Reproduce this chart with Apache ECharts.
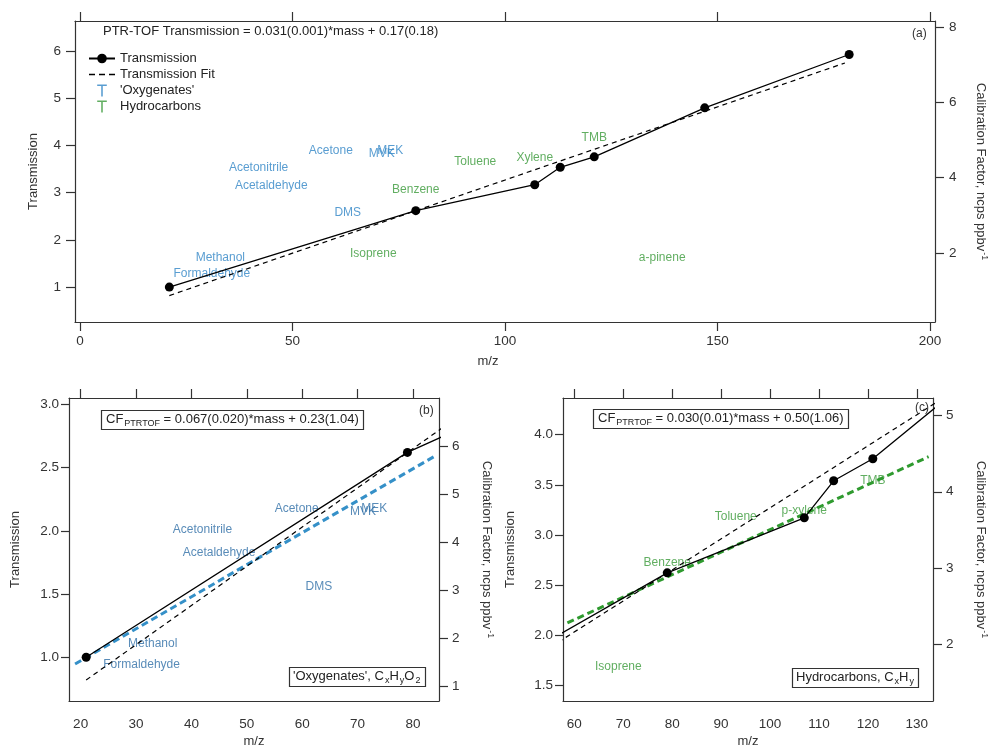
<!DOCTYPE html>
<html><head><meta charset="utf-8">
<script src="https://cdn.jsdelivr.net/npm/echarts@6/dist/echarts.min.js"></script>
<style>html,body{margin:0;padding:0;background:#fff}#c{width:988px;height:748px}</style>
</head><body><div id="c"></div>
<script>
// ---------------- data ----------------
const transMass  = [21, 79, 107, 113, 121, 147, 181];
const transValue = [1.00, 2.62, 3.17, 3.54, 3.76, 4.80, 5.93];
const fitMass  = [21, 180];
const fitValue = [0.82, 5.75];

const oxyNames = ['Formaldehyde','Methanol','Acetonitrile','Acetaldehyde','Acetone','DMS','MVK','MEK'];
const oxyMass  = [31, 33, 42, 45, 59, 63, 71, 73];
const oxyCF    = [1.44, 1.89, 4.26, 3.78, 4.71, 3.08, 4.63, 4.71];

const hcNamesA = ['Isoprene','Benzene','Toluene','Xylene','TMB','a-pinene'];
const hcMassA  = [69, 79, 93, 107, 121, 137];
const hcCFA    = [1.98, 3.69, 4.43, 4.54, 5.06, 1.88];

const hcNamesC = ['Isoprene','Benzene','Toluene','p-xylene','TMB'];
const hcMassC  = [69, 79, 93, 107, 121];
const hcCFC    = [1.71, 3.07, 3.67, 3.75, 4.15];

const oxyFitMass = [19, 84];
const oxyFitCF   = [1.46, 5.80];
const hcFitMass  = [58.6, 132.4];
const hcFitCF    = [2.28, 4.46];

const xTicksA = [0, 50, 100, 150, 200];
const yTicksA = [1, 2, 3, 4, 5, 6];
const y2TicksA = [2, 4, 6, 8];
const xTicksB = [20, 30, 40, 50, 60, 70, 80];
const yTicksB = [1.0, 1.5, 2.0, 2.5, 3.0];
const y2TicksB = [1, 2, 3, 4, 5, 6];
const xTicksC = [60, 70, 80, 90, 100, 110, 120, 130];
const yTicksC = [1.5, 2.0, 2.5, 3.0, 3.5, 4.0];
const y2TicksC = [2, 3, 4, 5];

// ---------------- helpers ----------------
const FONT = '"Liberation Sans", Arial, sans-serif';
const AX = '#333';
const BLUE_A = '#2f84c6';
const BLUE_B = '#2e6ea6';
const GREEN = '#3a9a3a';
const zip = (a, b) => a.map((v, i) => [v, b[i]]);
const labels = (n, m, v) => n.map((s, i) => ({ name: s, value: [m[i], v[i]] }));

function axis(o) {
  return {
    type: 'value', gridIndex: o.grid, position: o.pos, min: o.min, max: o.max,
    name: o.name || '', nameLocation: 'middle', nameGap: o.nameGap || 0,
    nameRotate: o.nameRotate, nameTextStyle: Object.assign({ fontSize: 13, color: '#333', fontFamily: FONT }, o.nameStyle || {}),
    axisLine: { show: true, onZero: false, lineStyle: { color: AX, width: 1.2 } },
    axisTick: { show: o.ticks !== false, inside: false, length: o.tickLen || 9, customValues: o.tickVals, lineStyle: { color: AX, width: 1.2 } },
    axisLabel: { show: !!o.showLabel, customValues: o.tickVals, fontSize: 13.5, color: '#333', fontFamily: FONT, margin: o.margin || 8, formatter: o.fmt },
    splitLine: { show: false }
  };
}
const f1 = v => v.toFixed(1);
const calName = '{a|Calibration Factor, ncps ppbv}{s|-1}';
const calRich = { a: { fontSize: 13, fontFamily: FONT, color: '#333' }, s: { fontSize: 9, fontFamily: FONT, color: '#333', verticalAlign: 'top', padding: [0, 0, 8, 1] } };

function lineSeries(name, xi, yi, data, style) {
  return Object.assign({ type: 'line', name, xAxisIndex: xi, yAxisIndex: yi, data, clip: true, animation: false, silent: true }, style);
}
const transStyle = { symbol: 'circle', symbolSize: 9, showSymbol: true, itemStyle: { color: '#000' }, lineStyle: { color: '#000', width: 1.3 } };
const fitStyle = { symbol: 'none', itemStyle: { color: '#000' }, lineStyle: { color: '#000', width: 1.2, type: [5, 4] } };
function labelSeries(name, xi, yi, data, color) {
  return { type: 'scatter', name, xAxisIndex: xi, yAxisIndex: yi, data, symbolSize: 0, itemStyle: { color }, animation: false, silent: true,
    label: { show: true, position: 'inside', formatter: '{b}', color, fontSize: 12, fontFamily: FONT } };
}

const boxRich = {
  n: { fontSize: 13, fontFamily: FONT, fontWeight: 'normal', color: '#222', lineHeight: 17 },
  s: { fontSize: 9, fontFamily: FONT, fontWeight: 'normal', color: '#222', lineHeight: 17, verticalAlign: 'bottom', padding: [0, 0, 0, 1] }
};
const T_ICON = 'path://M0,0 L8,0 L8,1.3 L4.65,1.3 L4.65,10 L3.35,10 L3.35,1.3 L0,1.3 Z';
const DASH_ICON = 'path://M0,0 L6,0 L6,1.4 L0,1.4 Z M10,0 L16,0 L16,1.4 L10,1.4 Z M20,0 L26,0 L26,1.4 L20,1.4 Z';

const option = {
  backgroundColor: '#fff',
  animation: false,
  grid: [
    { left: 75, top: 21, width: 860, height: 301, outerBoundsMode: 'none', containLabel: false },
    { left: 69, top: 398, width: 370, height: 303, outerBoundsMode: 'none', containLabel: false },
    { left: 563, top: 398, width: 370, height: 303, outerBoundsMode: 'none', containLabel: false }
  ],
  xAxis: [
    axis({ grid: 0, pos: 'bottom', min: -1.2, max: 201.2, tickVals: xTicksA, showLabel: true, margin: 12, name: 'm/z', nameGap: 33, nameStyle: { padding: [0, 34, 0, 0] } }),
    axis({ grid: 0, pos: 'top', min: -1.2, max: 201.2, tickVals: xTicksA }),
    axis({ grid: 1, pos: 'bottom', min: 17.9, max: 84.7, tickVals: xTicksB, showLabel: true, ticks: false, margin: 16, name: 'm/z', nameGap: 34 }),
    axis({ grid: 1, pos: 'top', min: 17.9, max: 84.7, tickVals: xTicksB }),
    axis({ grid: 2, pos: 'bottom', min: 57.7, max: 133.3, tickVals: xTicksC, showLabel: true, ticks: false, margin: 16, name: 'm/z', nameGap: 34 }),
    axis({ grid: 2, pos: 'top', min: 57.7, max: 133.3, tickVals: xTicksC })
  ],
  yAxis: [
    axis({ grid: 0, pos: 'left', min: 0.26, max: 6.64, tickVals: yTicksA, showLabel: true, margin: 14, name: 'Transmission', nameGap: 35 }),
    axis({ grid: 0, pos: 'right', min: 0.17, max: 8.16, tickVals: y2TicksA, showLabel: true, margin: 14, name: calName, nameGap: 37, nameRotate: -90, nameStyle: { rich: calRich } }),
    axis({ grid: 1, pos: 'left', min: 0.654, max: 3.05, tickVals: yTicksB, showLabel: true, margin: 10, tickLen: 8, fmt: f1, name: 'Transmission', nameGap: 47 }),
    axis({ grid: 1, pos: 'right', min: 0.687, max: 7.01, tickVals: y2TicksB, showLabel: true, margin: 13, name: calName, nameGap: 39, nameRotate: -90, nameStyle: { rich: calRich } }),
    axis({ grid: 2, pos: 'left', min: 1.34, max: 4.367, tickVals: yTicksC, showLabel: true, margin: 10, tickLen: 8, fmt: f1, name: 'Transmission', nameGap: 46 }),
    axis({ grid: 2, pos: 'right', min: 1.255, max: 5.23, tickVals: y2TicksC, showLabel: true, margin: 13, name: calName, nameGap: 39, nameRotate: -90, nameStyle: { rich: calRich } })
  ],
  legend: {
    orient: 'vertical', left: 88, top: 52, itemWidth: 26, itemHeight: 12, itemGap: 3, padding: 0,
    textStyle: { fontSize: 13, color: '#222', fontFamily: FONT },
    data: [
      { name: 'Transmission' },
      { name: 'Transmission Fit', icon: DASH_ICON, itemStyle: { color: '#000' } },
      { name: "'Oxygenates'", icon: T_ICON, itemStyle: { color: BLUE_A } },
      { name: 'Hydrocarbons', icon: T_ICON, itemStyle: { color: GREEN } }
    ],
    selectedMode: false
  },
  title: [
    { text: 'PTR-TOF Transmission = 0.031(0.001)*mass + 0.17(0.18)', left: 103, top: 25, padding: 0, textStyle: { fontSize: 13, fontWeight: 'normal', color: '#222', fontFamily: FONT } },
    { text: '(a)', left: 912, top: 28, padding: 0, textStyle: { fontSize: 12, fontWeight: 'normal', color: '#333', fontFamily: FONT } },
    { text: '(b)', left: 419, top: 405, padding: 0, textStyle: { fontSize: 12, fontWeight: 'normal', color: '#333', fontFamily: FONT } },
    { text: '(c)', left: 915, top: 402, padding: 0, textStyle: { fontSize: 12, fontWeight: 'normal', color: '#333', fontFamily: FONT } },
    { text: '{n|CF}{s|PTRTOF}{n| = 0.067(0.020)*mass + 0.23(1.04)}', left: 101, top: 408, padding: [3, 5, 2, 5], borderColor: '#333', borderWidth: 1.2, backgroundColor: '#fff', textStyle: { fontWeight: 'normal', rich: boxRich } },
    { text: "{n|'Oxygenates', C}{s|x}{n|H}{s|y}{n|O}{s|2}", left: 289, top: 665, padding: [3, 5, 2, 4], borderColor: '#333', borderWidth: 1.2, backgroundColor: '#fff', textStyle: { fontWeight: 'normal', rich: boxRich } },
    { text: '{n|CF}{s|PTRTOF}{n| = 0.030(0.01)*mass + 0.50(1.06)}', left: 593, top: 407, padding: [3, 5, 2, 5], borderColor: '#333', borderWidth: 1.2, backgroundColor: '#fff', textStyle: { fontWeight: 'normal', rich: boxRich } },
    { text: '{n|Hydrocarbons, C}{s|x}{n|H}{s|y}', left: 792, top: 666, padding: [3, 5, 2, 4], borderColor: '#333', borderWidth: 1.2, backgroundColor: '#fff', textStyle: { fontWeight: 'normal', rich: boxRich } }
  ],
  series: [
    // panel (a)
    lineSeries('Transmission Fit', 0, 0, zip(fitMass, fitValue), fitStyle),
    lineSeries('Transmission', 0, 0, zip(transMass, transValue), transStyle),
    labelSeries("'Oxygenates'", 0, 1, labels(oxyNames, oxyMass, oxyCF), BLUE_A),
    labelSeries('Hydrocarbons', 0, 1, labels(hcNamesA, hcMassA, hcCFA), GREEN),
    // panel (b)
    lineSeries('Oxygenates CF fit', 2, 3, zip(oxyFitMass, oxyFitCF), { symbol: 'none', lineStyle: { color: '#3590c8', width: 3, type: [7, 4] } }),
    lineSeries('Transmission Fit', 2, 2, zip(fitMass, fitValue), fitStyle),
    lineSeries('Transmission', 2, 2, zip(transMass, transValue), transStyle),
    labelSeries('oxyB', 2, 3, labels(oxyNames, oxyMass, oxyCF), BLUE_B),
    // panel (c)
    lineSeries('Hydrocarbons CF fit', 4, 5, zip(hcFitMass, hcFitCF), { symbol: 'none', lineStyle: { color: '#2f9a2f', width: 3, type: [7, 4] } }),
    lineSeries('Transmission Fit', 4, 4, zip(fitMass, fitValue), fitStyle),
    lineSeries('Transmission', 4, 4, zip(transMass, transValue), transStyle),
    labelSeries('hcC', 4, 5, labels(hcNamesC, hcMassC, hcCFC), GREEN)
  ]
};
const chart = echarts.init(document.getElementById('c'), null, { renderer: 'canvas' });
chart.setOption(option);
</script></body></html>
